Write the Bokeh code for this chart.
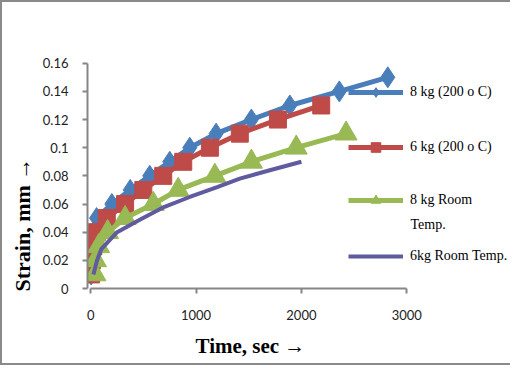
from bokeh.plotting import figure
from bokeh.models import (Range1d, FixedTicker, Label, Legend, LegendItem, Title)
from bokeh.embed import file_html
from bokeh.resources import INLINE

# ---- data ----
blue_x = [3, 8, 15, 28, 55, 200, 375, 560, 750, 940, 1190, 1525, 1890, 2360, 2820]
blue_y = [0.01, 0.02, 0.03, 0.04, 0.05, 0.06, 0.07, 0.08, 0.09, 0.10, 0.11, 0.12, 0.13, 0.14, 0.15]

red_x = [3, 10, 25, 57, 152, 326, 499, 688, 878, 1131, 1415, 1777, 2188]
red_y = [0.01, 0.02, 0.03, 0.04, 0.05, 0.06, 0.07, 0.08, 0.09, 0.10, 0.11, 0.12, 0.13]

green_x = [40, 45, 75, 160, 326, 594, 830, 1178, 1525, 1951, 2424]
green_y = [0.01, 0.02, 0.03, 0.04, 0.05, 0.06, 0.07, 0.08, 0.09, 0.10, 0.11]

purple_x = [25, 60, 100, 250, 470, 700, 940, 1200, 1415, 1700, 2000]
purple_y = [0.01, 0.02, 0.028, 0.04, 0.049, 0.058, 0.065, 0.072, 0.078, 0.084, 0.09]

series_names = ["8 kg (200 o C)", "6 kg (200 o C)", "8 kg Room", "6kg Room Temp."]
wrapped_tail = "Temp."   # second line of the third legend entry

x_ticks = [0, 1000, 2000, 3000]
x_tick_labels = ["0", "1000", "2000", "3000"]
y_ticks = [0, 0.02, 0.04, 0.06, 0.08, 0.10, 0.12, 0.14, 0.16]
y_tick_labels = ["0", "0.02", "0.04", "0.06", "0.08", "0.1", "0.12", "0.14", "0.16"]

x_title = "Time, sec  \u2192"
y_title = "Strain, mm  \u2192"

BLUE = "#4a7ebb"
RED = "#be4b48"
GREEN = "#98b954"
PURPLE = "#5f5b9e"
AXIS = "#868686"

p = figure(width=510, height=365, output_backend="svg", toolbar_location=None,
           x_range=Range1d(-31, 4004), y_range=Range1d(0, 0.1996),
           min_border_left=84, min_border_right=0, min_border_top=5, min_border_bottom=79)
p.styles = {"border-left": "2px solid #8a8a8a", "border-top": "2px solid #8a8a8a",
            "border-bottom": "2px solid #8a8a8a"}
p.outline_line_color = None
p.xgrid.visible = False
p.ygrid.visible = False
p.background_fill_color = "white"
p.border_fill_color = "white"

# series
b_line = p.line(blue_x, blue_y, line_color=BLUE, line_width=5)
b_mark = p.scatter(blue_x, blue_y, marker="diamond", size=21, fill_color=BLUE, line_color=BLUE)
r_line = p.line(red_x, red_y, line_color=RED, line_width=5)
r_mark = p.scatter(red_x, red_y, marker="square", size=17, fill_color=RED, line_color=RED)
g_line = p.line(green_x, green_y, line_color=GREEN, line_width=5)
g_mark = p.scatter(green_x, green_y, marker="triangle", size=22, fill_color=GREEN, line_color=GREEN)
pu_line = p.line(purple_x, purple_y, line_color=PURPLE, line_width=4)

# axes
for ax in (p.xaxis[0], p.yaxis[0]):
    ax.axis_line_color = AXIS
    ax.axis_line_width = 2
    ax.major_tick_line_color = AXIS
    ax.major_tick_line_width = 2
    ax.major_tick_out = 5
    ax.major_tick_in = 0
    ax.minor_tick_line_color = None
    ax.major_label_text_font = "Lato"
    ax.major_label_text_font_size = "13px"
    ax.major_label_text_color = "#222222"

p.xaxis[0].ticker = FixedTicker(ticks=x_ticks)
p.xaxis[0].major_label_overrides = {t: s for t, s in zip(x_ticks, x_tick_labels)}
p.xaxis[0].bounds = (x_ticks[0], x_ticks[-1])
p.xaxis[0].major_label_standoff = 16

p.yaxis[0].ticker = FixedTicker(ticks=y_ticks)
p.yaxis[0].major_label_overrides = {t: s for t, s in zip(y_ticks, y_tick_labels)}
p.yaxis[0].bounds = (y_ticks[0], y_ticks[-1])
p.yaxis[0].major_label_standoff = 14

# axis titles
p.add_layout(Title(text=x_title, align="left", offset=108, standoff=18,
                   text_font="Liberation Serif", text_font_style="bold",
                   text_font_size="21px", text_color="black"), "below")
p.add_layout(Title(text=y_title, align="left", offset=-3, standoff=10,
                   text_font="Liberation Serif", text_font_style="bold",
                   text_font_size="22px", text_color="black"), "left")

# legend: one box per entry to place them like the reference
legend_items = [
    (series_names[0], [b_line, b_mark], 184),
    (series_names[1], [r_line, r_mark], 129),
    (series_names[2], [g_line, g_mark], 76),
    (series_names[3], [pu_line], 20),
]
for name, rends, bottom in legend_items:
    lg = Legend(items=[LegendItem(label=name, renderers=rends)],
                location=(261, bottom), padding=0, margin=0, spacing=0,
                border_line_color=None, background_fill_alpha=0,
                glyph_width=55, glyph_height=24, label_height=24, label_standoff=7,
                label_text_font="Liberation Serif", label_text_font_size="14px",
                label_text_color="black")
    p.add_layout(lg, "center")

p.add_layout(Label(x=323, y=64, x_units="screen", y_units="screen", text=wrapped_tail,
                   text_align="left", text_baseline="middle",
                   text_font="Liberation Serif", text_font_size="14px", text_color="black"))

open("out.html", "w").write(file_html(p, INLINE))
